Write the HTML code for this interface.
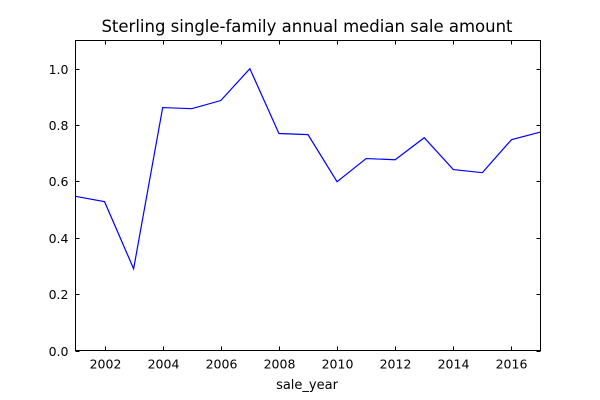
<!DOCTYPE html>
<html><head><meta charset="utf-8"><style>
html,body{margin:0;padding:0;background:#fff;}
svg{display:block;font-family:"DejaVu Sans","Liberation Sans",sans-serif;}
</style></head><body>
<svg id="chart" width="600" height="400">
<rect width="600" height="400" fill="#fff"/>
<text x="307" y="32" text-anchor="middle" font-size="16.5">Sterling single-family annual median sale amount</text>
<text x="307" y="389" text-anchor="middle" font-size="13">sale_year</text>
<g id="ticks"></g>
<path id="line" fill="none" stroke="#0000ff" stroke-width="1.2"/>
<rect x="75.5" y="40.5" width="465" height="310" fill="none" stroke="#000" stroke-width="1"/>
</svg>
<script>
const years = [2001,2002,2003,2004,2005,2006,2007,2008,2009,2010,2011,2012,2013,2014,2015,2016,2017];
const values = [0.547,0.528,0.290,0.862,0.858,0.887,1.000,0.770,0.766,0.599,0.681,0.677,0.755,0.642,0.631,0.748,0.775];
const xTicks = [2002,2004,2006,2008,2010,2012,2014,2016];
const yTicks = [0.0,0.2,0.4,0.6,0.8,1.0];
const L=75.5,R=540.5,T=40.5,B=350.5;
const xMin=2001,xMax=2017,yMin=0,yMax=1.1;
function xs(v){return L+(v-xMin)/(xMax-xMin)*(R-L);}
function ys(v){return B-(v-yMin)/(yMax-yMin)*(B-T);}
const ns="http://www.w3.org/2000/svg";
const g=document.getElementById('ticks');
function line(x1,y1,x2,y2,name){const l=document.createElementNS(ns,'line');
l.setAttribute('x1',x1);l.setAttribute('y1',y1);l.setAttribute('x2',x2);l.setAttribute('y2',y2);
l.setAttribute('stroke','#000');l.setAttribute('stroke-width','1');


g.appendChild(l);}
function text(x,y,s,anchor,name){const t=document.createElementNS(ns,'text');
t.setAttribute('x',x);t.setAttribute('y',y);t.setAttribute('text-anchor',anchor);t.setAttribute('font-size','12.5');
t.textContent=s;


g.appendChild(t);}
xTicks.forEach(v=>{const x=Math.round(xs(v))+0.5;
line(x,B,x,B-4,'x-tick');line(x,T,x,T+4,'x-tick-top');
text(x,B+18,String(v),'middle','x-tick-label');});
yTicks.forEach(v=>{const y=Math.round(ys(v))+0.5;
line(L,y,L+4,y,'y-tick');line(R,y,R-4,y,'y-tick-right');
text(L-7,y+4.5,v.toFixed(1),'end','y-tick-label');});
document.getElementById('line').setAttribute('d',years.map((yr,i)=>(i?'L':'M')+xs(yr)+','+ys(values[i])).join(' '));
</script>
</body></html>
